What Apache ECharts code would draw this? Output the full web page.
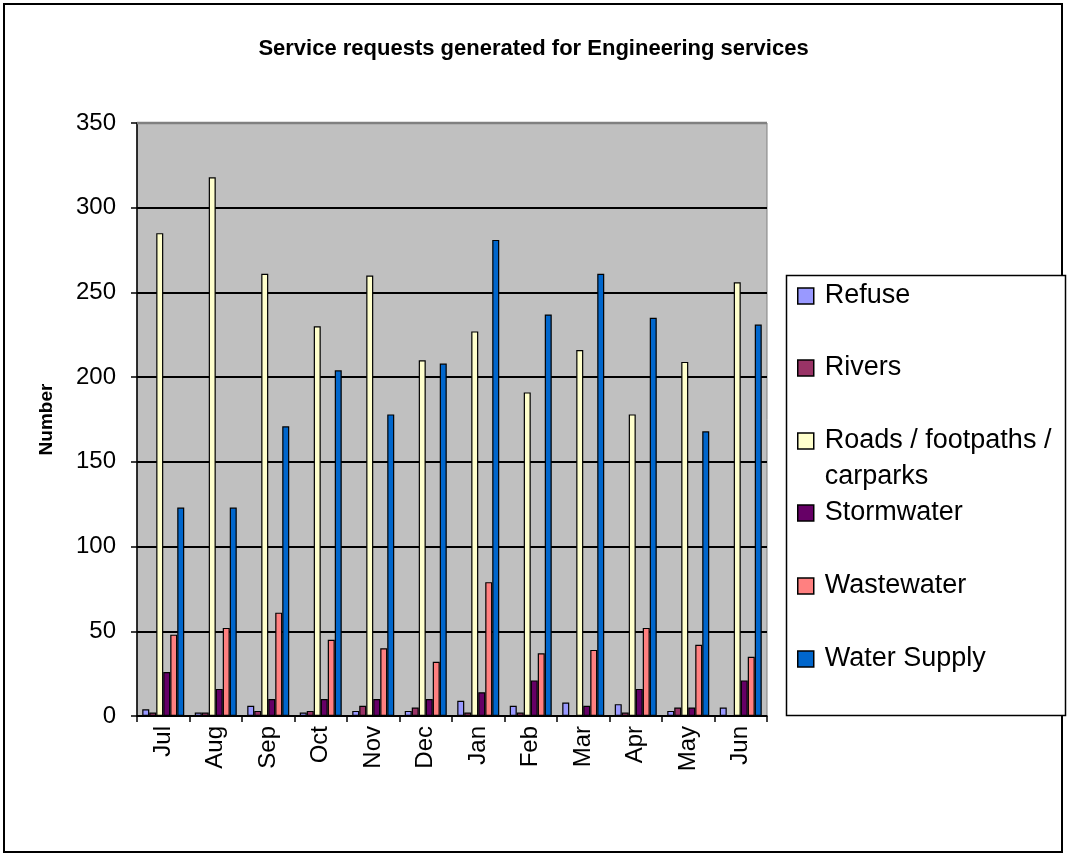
<!DOCTYPE html>
<html>
<head>
<meta charset="utf-8">
<script src="https://cdn.jsdelivr.net/npm/echarts@6/dist/echarts.min.js"></script>
<style>
html,body{margin:0;padding:0;background:#fff;}
#chart{width:1067px;height:857px;}
</style>
</head>
<body>
<div id="chart"></div>
<script>
const titleText = 'Service requests generated for Engineering services';
const yAxisName = 'Number';
const months = ['Jul','Aug','Sep','Oct','Nov','Dec','Jan','Feb','Mar','Apr','May','Jun'];
const yTicks = [0, 50, 100, 150, 200, 250, 300, 350];

const refuse     = [4, 2, 6, 2, 3, 3, 9, 6, 8, 7, 3, 5];
const rivers     = [2, 2, 3, 3, 6, 5, 2, 2, 0, 2, 5, 0];
const roads      = [285, 318, 261, 230, 260, 210, 227, 191, 216, 178, 209, 256];
const stormwater = [26, 16, 10, 10, 10, 10, 14, 21, 6, 16, 5, 21];
const wastewater = [48, 52, 61, 45, 40, 32, 79, 37, 39, 52, 42, 35];
const waterSupply= [123, 123, 171, 204, 178, 208, 281, 237, 261, 235, 168, 231];

const seriesNames = ['Refuse','Rivers','Roads / footpaths / carparks','Stormwater','Wastewater','Water Supply'];
const seriesData = [refuse, rivers, roads, stormwater, wastewater, waterSupply];
const colors = ['#9999FF','#993366','#FFFFCC','#660066','#FF8080','#0066CC'];

const FONT = 'Liberation Sans, Arial, sans-serif';
const legendRows = [296, 368, 441, 513, 586, 659];
const LH1 = 32;
const LH2 = 36;

const legends = seriesNames.map((name, i) => {
  const isTwo = i === 2;
  const lh = isTwo ? LH2 : LH1;
  return {
    orient: 'vertical',
    left: 797,
    top: isTwo ? legendRows[i] - lh * 1.5 : legendRows[i] - lh / 2,
    padding: 0,
    itemWidth: 16,
    itemHeight: 16,
    itemGap: 0,
    icon: 'rect',
    selectedMode: false,
    formatter: isTwo ? '\n{t|Roads / footpaths /}\n{t|carparks}' : '{t|{name}}',
    textStyle: {
      fontFamily: FONT, fontSize: 27, color: '#000', lineHeight: lh,
      rich: { t: { fontFamily: FONT, fontSize: 27, color: '#000', lineHeight: lh, padding: [0, 0, 0, 6] } }
    },
    itemStyle: { borderColor: '#000', borderWidth: 1.5 },
    data: [name]
  };
});

const option = {
  animation: false,
  backgroundColor: '#fff',
  color: colors,
  title: {
    text: titleText,
    left: 'center',
    top: 33,
    textStyle: { fontFamily: FONT, fontSize: 22, fontWeight: 'bold', color: '#000' }
  },
  legend: legends,
  grid: {
    left: 137, right: 300, top: 123, bottom: 141,
    show: true, backgroundColor: '#C0C0C0', borderColor: '#808080', borderWidth: 1,
    containLabel: false
  },
  xAxis: {
    type: 'category',
    data: months,
    axisLine: { lineStyle: { color: '#000', width: 1.5 } },
    axisTick: { show: true, alignWithLabel: false, length: 6, lineStyle: { color: '#000', width: 1.5 } },
    axisLabel: { rotate: 90, fontFamily: FONT, fontSize: 24, color: '#000', margin: 10 },
    splitLine: { show: false }
  },
  yAxis: {
    type: 'value',
    min: yTicks[0],
    max: yTicks[yTicks.length - 1],
    interval: 50,
    name: yAxisName,
    nameLocation: 'middle',
    nameGap: 81,
    nameRotate: 90,
    nameTextStyle: { fontFamily: FONT, fontSize: 19, fontWeight: 'bold', color: '#000' },
    axisLine: { show: true, lineStyle: { color: '#000', width: 1.5 } },
    axisTick: { show: true, length: 6, lineStyle: { color: '#000', width: 1.5 } },
    axisLabel: { fontFamily: FONT, fontSize: 24, color: '#000', margin: 21 },
    splitLine: { show: true, lineStyle: { color: '#000', width: 2 } }
  },
  graphic: [
    { type: 'rect', shape: { x: 4, y: 4, width: 1058, height: 848 }, style: { fill: 'none', stroke: '#000', lineWidth: 2 }, z: -1 },
    { type: 'rect', shape: { x: 786.5, y: 275.5, width: 279, height: 440 }, style: { fill: '#fff', stroke: '#000', lineWidth: 1.5 }, z: -1 },
    { type: 'line', shape: { x1: 137, y1: 123, x2: 767, y2: 123 }, style: { stroke: '#808080', lineWidth: 2.5 }, z: 10 }
  ],
  series: seriesNames.map((name, i) => ({
    name: name,
    type: 'bar',
    data: seriesData[i],
    barGap: '0%',
    barCategoryGap: '20%',
    itemStyle: { color: colors[i], borderColor: '#000', borderWidth: 1.2 }
  }))
};

const chart = echarts.init(document.getElementById('chart'), null, { renderer: 'canvas' });
chart.setOption(option);
</script>
</body>
</html>
